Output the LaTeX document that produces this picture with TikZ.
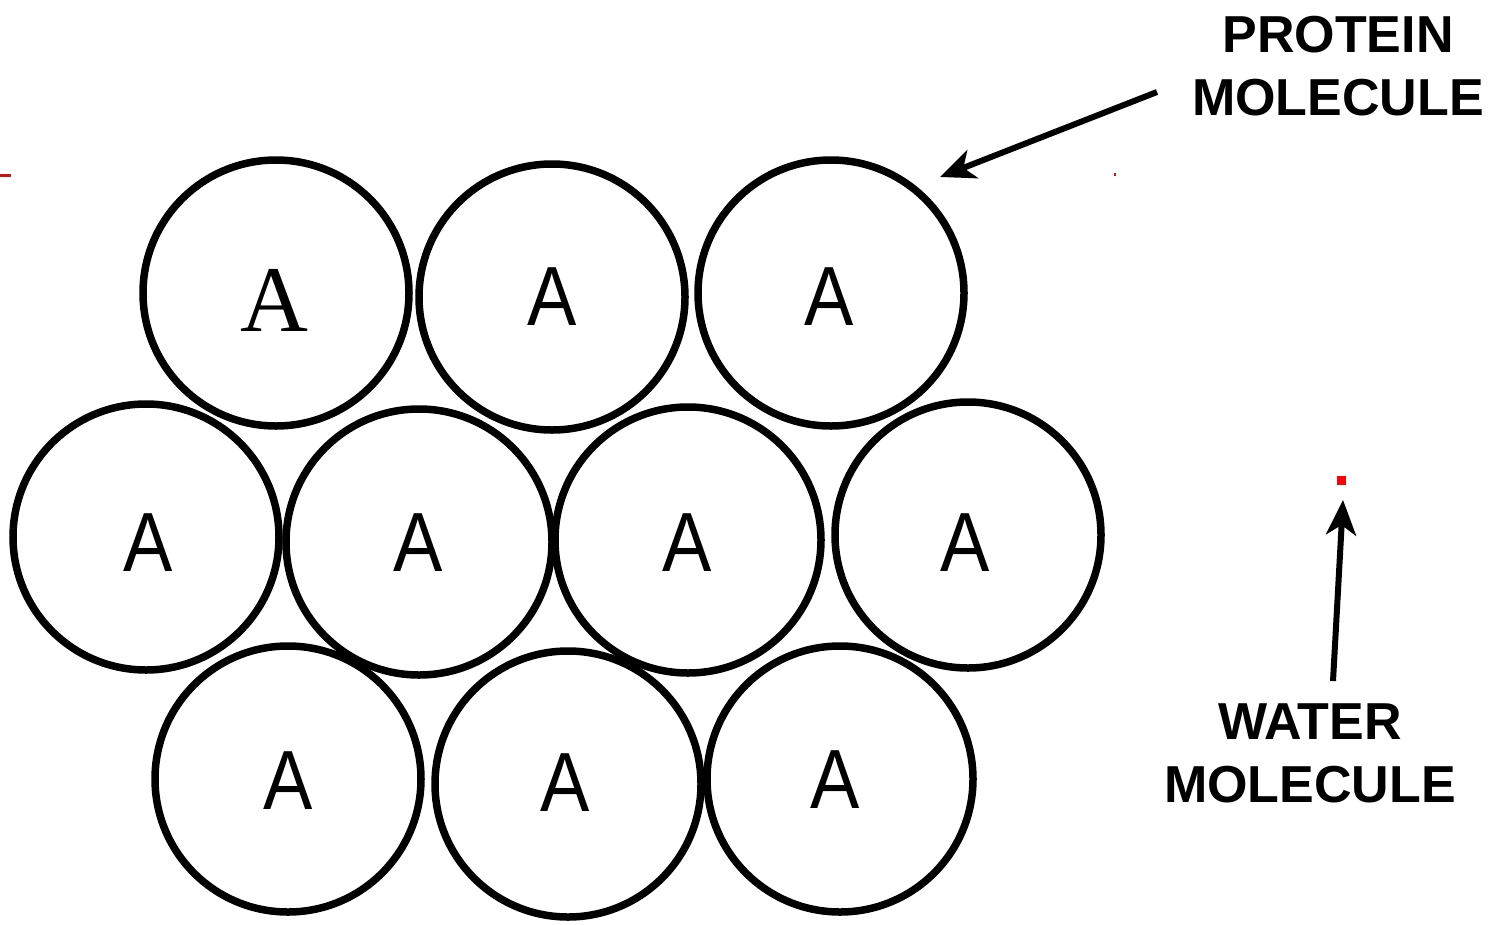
\documentclass[tikz,border=0pt]{standalone}
\usepackage{fontspec}
\usepackage{graphicx}
\setmainfont{Liberation Sans}
\newfontfamily\serifA{Liberation Serif}
\usetikzlibrary{arrows.meta}
\definecolor{markred}{RGB}{200,20,20}
\newcommand{\narrowA}{\scalebox{0.88}[1]{A}}
\tikzset{
  mol/.style={circle,draw=black,line width=7.5pt,minimum size=266pt,inner sep=0pt},
  letA/.style={inner sep=0pt,font=\fontsize{84}{84}\selectfont},
  letAs/.style={inner sep=0pt,font=\serifA\fontsize{94}{94}\selectfont},
  lbl/.style={align=center,inner sep=0pt,font=\bfseries\fontsize{52}{63}\selectfont},
  pointer/.style={line width=6pt,-{Stealth[length=35pt,width=30pt,inset=10pt]}}
}
\begin{document}
\begin{tikzpicture}[x=1pt,y=-1pt]
\useasboundingbox (0,0) rectangle (1509,924);
% circles
\node[mol] (c1) at (276,293) {};
\node[mol] (c2) at (552,297) {};
\node[mol] (c3) at (831,293) {};
\node[mol] (c4) at (146,537) {};
\node[mol] (c5) at (419,542) {};
\node[mol] (c6) at (688,540) {};
\node[mol] (c7) at (968,535) {};
\node[mol] (c8) at (288,779) {};
\node[mol] (c9) at (568,784) {};
\node[mol] (c10) at (840,779) {};
% letters
\node[letAs] (a1) at (274,300) {A};
\node[letA] (a2) at (552,297) {\narrowA};
\node[letA] (a3) at (829,297) {\narrowA};
\node[letA] (a4) at (148,543) {\narrowA};
\node[letA] (a5) at (418,543) {\narrowA};
\node[letA] (a6) at (687,543) {\narrowA};
\node[letA] (a7) at (965,543) {\narrowA};
\node[letA] (a8) at (288,781) {\narrowA};
\node[letA] (a9) at (565,783) {\narrowA};
\node[letA] (a10) at (835,780) {\narrowA};
% labels
\node[lbl] (prot) at (1338,66) {PROTEIN\\MOLECULE};
\node[lbl] (wat) at (1310,753) {WATER\\MOLECULE};
% water molecule
\node[fill=red,minimum size=9pt,inner sep=0pt] (water) at (1341.5,480.5) {};
% small red marks
\fill[markred] (0,173.5) rectangle (11,176.5);
\fill[markred] (1114,173) rectangle (1116,176);
% arrows
\coordinate (ptail) at (1157,92);
\coordinate (ptip) at (940,177);
\coordinate (wtail) at (1333,681);
\coordinate (wtip) at (1343,500);
\draw[pointer] (ptail) -- (ptip);
\draw[pointer] (wtail) -- (wtip);
\end{tikzpicture}
\end{document}
